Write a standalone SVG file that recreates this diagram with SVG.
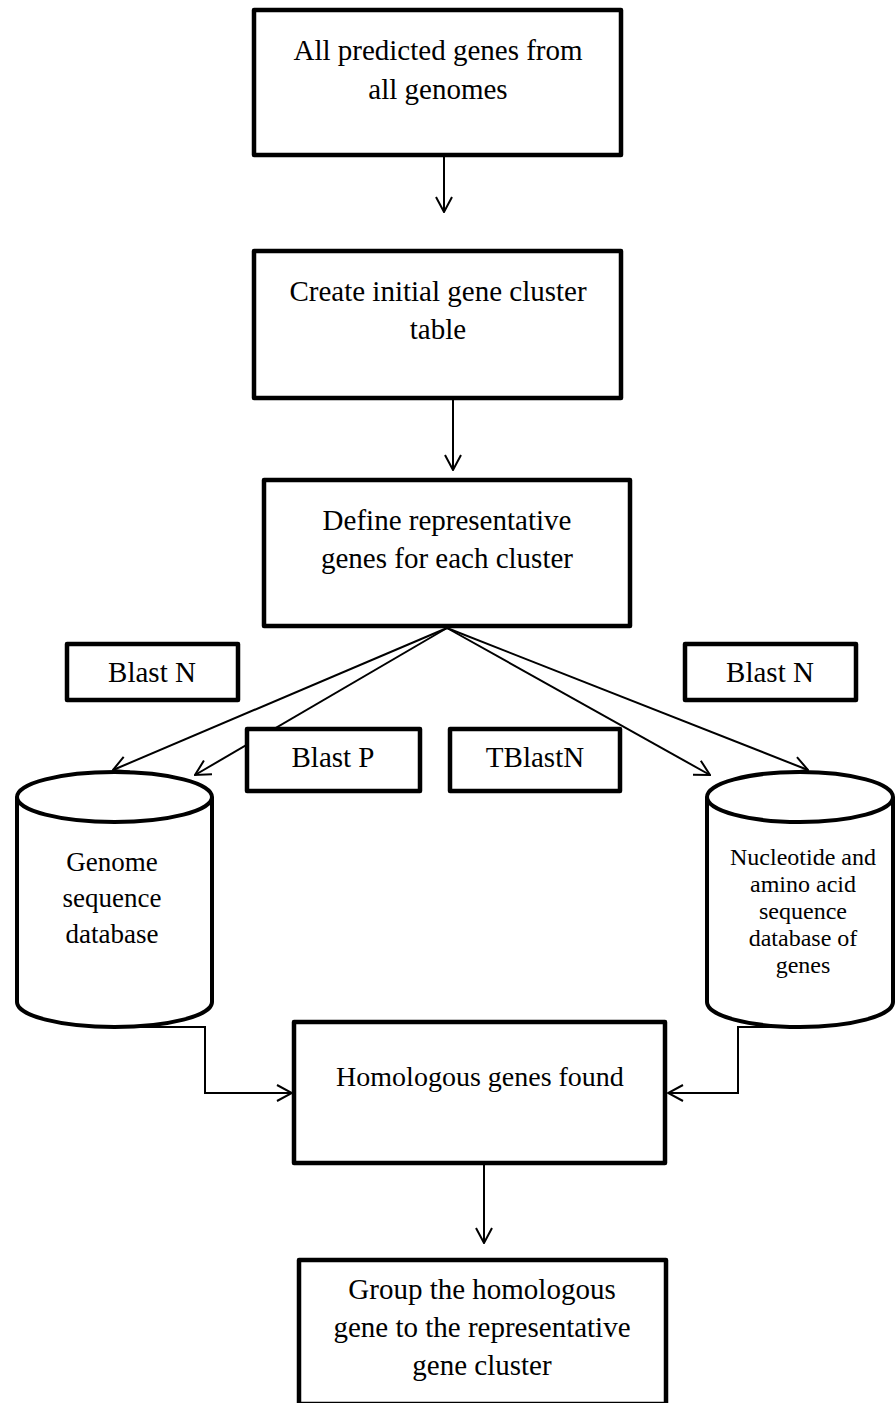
<svg xmlns="http://www.w3.org/2000/svg" width="895" height="1403" viewBox="0 0 895 1403">
  <style>
    .box { fill: #fff; stroke: #000; stroke-width: 4.5; stroke-linejoin: round; }
    .cyl { fill: #fff; stroke: #000; stroke-width: 4; }
    .lbl { font-family: "Liberation Serif", "Times New Roman", serif; font-size: 29px; fill: #000; text-anchor: middle; }
    .mid { font-size: 28px; }
    .db1 { font-size: 27px; }
    .db2 { font-size: 24px; }
    .conn { fill: none; stroke: #000; stroke-width: 2; }
  </style>
  <defs>
    <marker id="arrow" viewBox="0 0 17 18" refX="16" refY="9" markerWidth="17" markerHeight="18" markerUnits="userSpaceOnUse" orient="auto">
      <path d="M1,1 L16,9 L1,17" fill="none" stroke="#000" stroke-width="2"/>
    </marker>
  </defs>

  <rect width="895" height="1403" fill="#fff"/>

  <!-- connectors (drawn first so boxes with white fill sit on top) -->
  <g id="connectors">
    <line class="conn" x1="444" y1="157" x2="444" y2="212" marker-end="url(#arrow)"/>
    <line class="conn" x1="453" y1="399" x2="453" y2="470" marker-end="url(#arrow)"/>
    <line class="conn" x1="447" y1="628" x2="113" y2="770" marker-end="url(#arrow)"/>
    <line class="conn" x1="447" y1="628" x2="195" y2="775" marker-end="url(#arrow)"/>
    <line class="conn" x1="447" y1="628" x2="710" y2="775" marker-end="url(#arrow)"/>
    <line class="conn" x1="447" y1="628" x2="808" y2="770" marker-end="url(#arrow)"/>
    <path class="conn" d="M140,1027 L205,1027 L205,1093 L292,1093" marker-end="url(#arrow)"/>
    <path class="conn" d="M800,1027 L738,1027 L738,1093 L668,1093" marker-end="url(#arrow)"/>
    <line class="conn" x1="484" y1="1165" x2="484" y2="1243" marker-end="url(#arrow)"/>
  </g>

  <g id="all-genes">
    <rect class="box" x="254" y="10" width="367" height="145"/>
    <text class="lbl" x="438" y="60">All predicted genes from</text>
    <text class="lbl" x="438" y="99">all genomes</text>
  </g>

  <g id="initial-cluster">
    <rect class="box" x="254" y="251" width="367" height="147"/>
    <text class="lbl" x="438" y="301">Create initial gene cluster</text>
    <text class="lbl" x="438" y="339">table</text>
  </g>

  <g id="representative">
    <rect class="box" x="264" y="480" width="366" height="146"/>
    <text class="lbl" x="447" y="530">Define representative</text>
    <text class="lbl" x="447" y="568">genes for each cluster</text>
  </g>

  <g id="blastn-left">
    <rect class="box" x="67" y="644" width="171" height="56"/>
    <text class="lbl" x="152" y="682">Blast N</text>
  </g>

  <g id="blastp">
    <rect class="box" x="247" y="729" width="173" height="62"/>
    <text class="lbl" x="333" y="767">Blast P</text>
  </g>

  <g id="tblastn">
    <rect class="box" x="450" y="729" width="170" height="62"/>
    <text class="lbl" x="535" y="767">TBlastN</text>
  </g>

  <g id="blastn-right">
    <rect class="box" x="685" y="644" width="171" height="56"/>
    <text class="lbl" x="770" y="682">Blast N</text>
  </g>

  <g id="genome-db">
    <path class="cyl" d="M17,797 L17,1002 A97.5,25 0 0 0 212,1002 L212,797"/>
    <ellipse class="cyl" cx="114.5" cy="797" rx="97.5" ry="25"/>
    <text class="lbl db1" x="112" y="871">Genome</text>
    <text class="lbl db1" x="112" y="907">sequence</text>
    <text class="lbl db1" x="112" y="943">database</text>
  </g>

  <g id="gene-db">
    <path class="cyl" d="M707,797 L707,1002 A93,25 0 0 0 893,1002 L893,797"/>
    <ellipse class="cyl" cx="800" cy="797" rx="93" ry="25"/>
    <text class="lbl db2" x="803" y="865">Nucleotide and</text>
    <text class="lbl db2" x="803" y="892">amino acid</text>
    <text class="lbl db2" x="803" y="919">sequence</text>
    <text class="lbl db2" x="803" y="946">database of</text>
    <text class="lbl db2" x="803" y="973">genes</text>
  </g>

  <g id="homologous">
    <rect class="box" x="294" y="1022" width="371" height="141"/>
    <text class="lbl mid" x="480" y="1086">Homologous genes found</text>
  </g>

  <g id="group-cluster">
    <rect class="box" x="299" y="1260" width="367" height="144"/>
    <text class="lbl" x="482" y="1299">Group the homologous</text>
    <text class="lbl" x="482" y="1337">gene to the representative</text>
    <text class="lbl" x="482" y="1375">gene cluster</text>
  </g>
</svg>
